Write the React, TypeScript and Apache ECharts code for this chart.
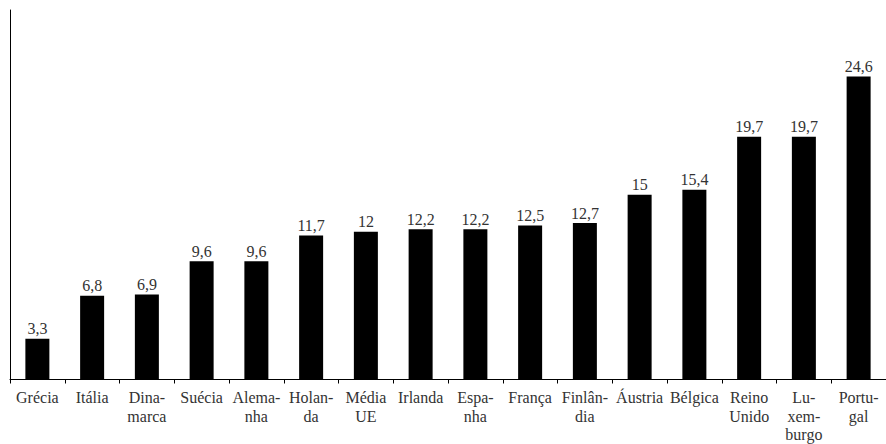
import React, { useEffect, useRef } from "react";
import * as echarts from "echarts";

const categories = [
  "Grécia", "Itália", "Dina-\nmarca", "Suécia", "Alema-\nnha", "Holan-\nda", "Média\nUE", "Irlanda",
  "Espa-\nnha", "França", "Finlân-\ndia", "Áustria", "Bélgica", "Reino\nUnido", "Lu-\nxem-\nburgo", "Portu-\ngal",
];
const values = [3.3, 6.8, 6.9, 9.6, 9.6, 11.7, 12, 12.2, 12.2, 12.5, 12.7, 15, 15.4, 19.7, 19.7, 24.6];

const FONT = "'Liberation Serif', 'Times New Roman', serif";

export default function App() {
  const ref = useRef<HTMLDivElement>(null);
  useEffect(() => {
    if (!ref.current) return;
    const chart = echarts.init(ref.current, null, { renderer: "svg" });
    chart.setOption({
      animation: false,
      backgroundColor: "#ffffff",
      grid: { left: 10, right: 0, top: 10, bottom: 64, containLabel: false },
      xAxis: {
        type: "category",
        data: categories,
        boundaryGap: true,
        axisLine: { lineStyle: { color: "#000", width: 1 } },
        axisTick: { show: true, interval: 0, length: 4, lineStyle: { color: "#000" } },
        axisLabel: {
          interval: 0,
          margin: 9,
          color: "#333",
          fontFamily: FONT,
          fontSize: 16,
          lineHeight: 18.5,
        },
      },
      yAxis: {
        type: "value",
        min: 0,
        max: 30,
        axisLine: { show: true, lineStyle: { color: "#000", width: 1 } },
        axisTick: { show: false },
        axisLabel: { show: false },
        splitLine: { show: false },
      },
      series: [
        {
          type: "bar",
          data: values,
          barWidth: 24,
          itemStyle: { color: "#000" },
          label: {
            show: true,
            position: "top",
            distance: 2,
            color: "#333",
            fontFamily: FONT,
            fontSize: 16,
            formatter: (p: any) => String(p.value).replace(".", ","),
          },
        },
      ],
    });
    return () => chart.dispose();
  }, []);
  return (
    <div
      ref={ref}
      style={{ position: "fixed", left: 0, top: 0, width: 886, height: 444, background: "#fff" }}
    />
  );
}
